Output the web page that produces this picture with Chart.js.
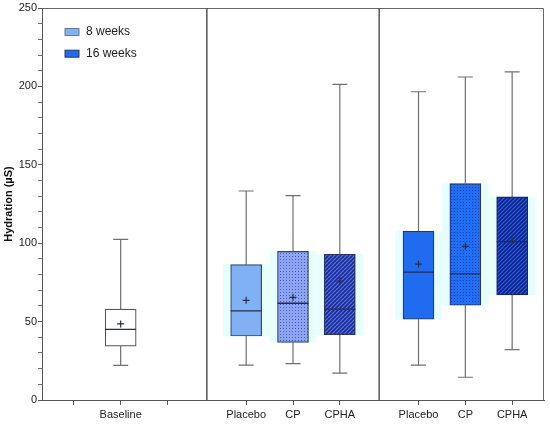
<!DOCTYPE html>
<html>
<head>
<meta charset="utf-8">
<script src="https://cdn.jsdelivr.net/npm/chart.js@4.4.1/dist/chart.umd.min.js"></script>
<style>
  body { margin: 0; background: #fff; }
  #caja { width: 550px; height: 425px; }
</style>
</head>
<body>
<div id="caja"><canvas id="grafico"></canvas></div>
<script>
// Datos (µS)
const etiquetas = ['Baseline', 'Placebo', 'CP', 'CPHA', 'Placebo', 'CP', 'CPHA'];
const minimos  = [22.1, 22.3, 23.2, 17.2, 22.3, 14.5, 32.1];
const q1       = [34.4, 40.8, 36.8, 41.7, 51.5, 60.4, 67.0];
const medianas = [45.0, 56.8, 61.7, 58.0, 81.6, 80.4, 101.0];
const q3       = [58.0, 86.3, 94.8, 92.9, 107.6, 138.0, 129.5];
const maximos  = [102.5, 133.3, 130.3, 201.3, 196.6, 206.0, 209.2];
const medias   = [48.5, 63.6, 65.5, 75.9, 86.7, 98.0, 101.4];
const leyenda  = ['8 weeks', '16 weeks'];
const ticksY   = [0, 50, 100, 150, 200, 250];

// Posicion de cada caja: baseline solo, luego dos grupos de 3
const pasoGrupo = 3.68;
const posicion = (i) => {
    if (i === 0) return 2;
    const g = Math.ceil(i / 3);
    const k = (i - 1) % 3;
    return 2 + g * pasoGrupo + (k - 1);
};
const posiciones = etiquetas.map((e, i) => posicion(i));
const separadores = [2 + pasoGrupo / 2, 2 + pasoGrupo * 1.5];
const ticksX = [1, 2, 3].concat(posiciones.slice(1));

// marcas menores cada 10 entre las etiquetas
const marcasY = [];
for (let v = 0; v <= 250; v += 10) marcasY.push(v);

// Texturas de las cajas
const tramaPuntos = (fondo, punto) => {
    const c = document.createElement('canvas');
    c.width = 3; c.height = 3;
    const g = c.getContext('2d');
    g.fillStyle = fondo; g.fillRect(0, 0, 3, 3);
    g.fillStyle = punto; g.fillRect(1, 1, 1, 1);
    return g.createPattern(c, 'repeat');
};
const tramaRayas = (fondo, raya) => {
    const c = document.createElement('canvas');
    c.width = 4; c.height = 4;
    const g = c.getContext('2d');
    g.fillStyle = fondo; g.fillRect(0, 0, 4, 4);
    g.strokeStyle = raya; g.lineWidth = 1.6;
    g.beginPath();
    g.moveTo(0, 4); g.lineTo(4, 0);
    g.moveTo(-1, 1); g.lineTo(1, -1);
    g.moveTo(3, 5); g.lineTo(5, 3);
    g.stroke();
    return g.createPattern(c, 'repeat');
};
const color8 = '#80b1f5';
const color16 = '#1f6cf0';
const rellenos = [
    '#ffffff',
    color8,
    tramaPuntos('#8ea6f2', '#4358c0'),
    tramaRayas('#5878ea', '#1a2890'),
    color16,
    tramaPuntos('#1f6ef4', '#1040b4'),
    tramaRayas('#2a5cec', '#0c2284')
];
const bordes = ['#555555', '#3a4668', '#3a4668', '#2c3468', '#2c3468', '#2c3468', '#1c2458'];

// Segmentos (bigotes, topes, medianas)
const bigotes = [], topes = [], lineasMediana = [];
posiciones.forEach((x, i) => {
    bigotes.push({x, y: minimos[i]}, {x, y: q1[i]}, {x, y: null},
                 {x, y: q3[i]}, {x, y: maximos[i]}, {x, y: null});
    topes.push({x: x - 0.16, y: maximos[i]}, {x: x + 0.16, y: maximos[i]}, {x, y: null},
               {x: x - 0.16, y: minimos[i]}, {x: x + 0.16, y: minimos[i]}, {x, y: null});
    lineasMediana.push({x: x - 0.33, y: medianas[i]}, {x: x + 0.33, y: medianas[i]}, {x, y: null});
});
const lineasSeparador = [];
separadores.forEach((x) => {
    lineasSeparador.push({x, y: 0}, {x, y: 250}, {x, y: null});
});

const segmento = (datos, color, ancho, orden) => ({
    type: 'line', data: datos, borderColor: color, borderWidth: ancho,
    pointRadius: 0, fill: false, tension: 0, spanGaps: false, order: orden
});

// Marco superior y derecho
const marco = {
    id: 'marco',
    beforeDatasetsDraw(chart) {
        const {ctx, chartArea: a} = chart;
        ctx.save();
        ctx.strokeStyle = '#666';
        ctx.lineWidth = 1;
        ctx.beginPath();
        ctx.moveTo(a.left, a.top + 0.5);
        ctx.lineTo(a.right - 0.5, a.top + 0.5);
        ctx.lineTo(a.right - 0.5, a.bottom);
        ctx.stroke();
        ctx.restore();
    }
};

// Leyenda dentro del area
const leyendaInterna = {
    id: 'leyendaInterna',
    afterDraw(chart) {
        const {ctx, chartArea: a} = chart;
        const colores = [color8, color16];
        ctx.save();
        ctx.font = '12px "Liberation Sans", Arial, sans-serif';
        ctx.textBaseline = 'middle';
        leyenda.forEach((texto, i) => {
            const y = a.top + 24 + i * 21.7;
            ctx.fillStyle = colores[i];
            ctx.fillRect(a.left + 23, y - 3.5, 14, 7);
            ctx.strokeStyle = i === 0 ? '#6a7a90' : '#2c3468';
            ctx.lineWidth = 1;
            ctx.strokeRect(a.left + 23, y - 3.5, 14, 7);
            ctx.fillStyle = '#222';
            ctx.fillText(texto, a.left + 44, y);
        });
        ctx.restore();
    }
};

new Chart(document.getElementById('grafico'), {
    type: 'bar',
    data: {
        datasets: [
            {
                type: 'scatter', data: posiciones.map((x, i) => ({x, y: medias[i]})),
                pointStyle: 'cross', pointRadius: 3.5, borderColor: '#2a2f48', borderWidth: 1.2, order: 0
            },
            segmento(lineasMediana, '#262c48', 1.3, 1),
            {
                data: posiciones.map((x, i) => ({x, y: [q1[i], q3[i]]})),
                backgroundColor: rellenos, borderColor: bordes, borderWidth: 1.2,
                borderSkipped: false, barThickness: 31, grouped: false, order: 2
            },
            segmento(bigotes, '#707070', 1.2, 3),
            segmento(topes, '#707070', 1.2, 3),
            segmento(lineasSeparador, '#555555', 1.5, 4),
            {
                data: posiciones.slice(1).map((x, i) => ({x, y: [q1[i + 1], q3[i + 1]]})),
                backgroundColor: '#e6fefe', borderWidth: 0,
                barThickness: 46, grouped: false, order: 10
            }
        ]
    },
    options: {
        responsive: true,
        maintainAspectRatio: false,
        animation: false,
        events: [],
        layout: { padding: { top: 8, right: 6, left: 0, bottom: 0 } },
        plugins: { legend: { display: false }, tooltip: { enabled: false } },
        scales: {
            x: {
                type: 'linear', offset: false, min: 0.32, max: 2 + 2 * pasoGrupo + 1.68,
                afterBuildTicks: (s) => { s.ticks = ticksX.map((v) => ({value: v})); },
                afterFit: (s) => { s.height = 25; },
                grid: { drawOnChartArea: false, offset: false, tickLength: 5, color: '#555', tickWidth: 1 },
                border: { color: '#555', width: 1 },
                ticks: {
                    autoSkip: false, maxRotation: 0, padding: 3, color: '#222',
                    font: { family: '"Liberation Sans", Arial, sans-serif', size: 11 },
                    callback: (v) => {
                        const i = posiciones.findIndex((p) => Math.abs(p - v) < 0.01);
                        return i >= 0 ? etiquetas[i] : '';
                    }
                }
            },
            y: {
                min: 0, max: 250,
                afterBuildTicks: (s) => { s.ticks = marcasY.map((v) => ({value: v})); },
                afterFit: (s) => { s.width = 42; },
                grid: {
                    drawOnChartArea: false, tickLength: 4,
                    tickColor: (c) => (c.tick && c.tick.value % 50 !== 0 ? '#777' : '#555'),
                    tickWidth: 1
                },
                border: { color: '#555', width: 1 },
                ticks: {
                    autoSkip: false, padding: 1, color: '#222',
                    font: { family: '"Liberation Sans", Arial, sans-serif', size: 11 },
                    callback: (v) => (ticksY.includes(v) ? v : '')
                },
                title: {
                    display: true, text: 'Hydration (µS)', color: '#111',
                    padding: { top: 2.5, bottom: 0 },
                    font: { family: '"Liberation Sans", Arial, sans-serif', size: 11, weight: 'bold' }
                }
            }
        }
    },
    plugins: [marco, leyendaInterna]
});
</script>
</body>
</html>
